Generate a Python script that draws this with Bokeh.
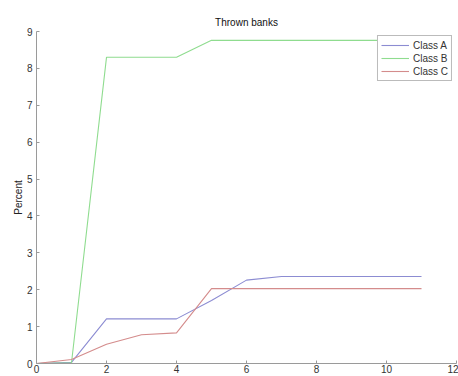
from bokeh.plotting import figure
from bokeh.models import FixedTicker, Range1d, Legend, LegendItem
from bokeh.embed import file_html
from bokeh.resources import INLINE

x = [0, 1, 2, 3, 4, 5, 6, 7, 8, 9, 10, 11]
class_a = [0.0, 0.03, 1.21, 1.21, 1.21, 1.71, 2.26, 2.36, 2.36, 2.36, 2.36, 2.36]
class_b = [0.0, 0.02, 8.30, 8.30, 8.30, 8.76, 8.76, 8.76, 8.76, 8.76, 8.76, 8.76]
class_c = [0.0, 0.11, 0.52, 0.78, 0.83, 2.03, 2.03, 2.03, 2.03, 2.03, 2.03, 2.03]
names = ["Class A", "Class B", "Class C"]
colors = ["#8c8cd2", "#8fdc8f", "#d48c8c"]
x_ticks = [0, 2, 4, 6, 8, 10, 12]
y_ticks = [0, 1, 2, 3, 4, 5, 6, 7, 8, 9]

FONT = "Liberation Sans"

p = figure(width=458, height=376, output_backend="svg", toolbar_location=None,
           x_range=Range1d(0, 12), y_range=Range1d(0, 9),
           min_border_left=36, min_border_right=2, min_border_top=31, min_border_bottom=13,
           title="Thrown banks")
p.outline_line_color = None
p.grid.visible = False
p.background_fill_color = "white"
p.border_fill_color = "white"

p.title.align = "center"
p.title.text_font = FONT
p.title.text_font_size = "10px"
p.title.text_font_style = "normal"
p.title.text_color = "#111111"
p.title.standoff = 8

for ax in (p.xaxis[0], p.yaxis[0]):
    ax.axis_line_color = "#9a9a9a"
    ax.major_tick_line_color = "#9a9a9a"
    ax.major_tick_in = 3
    ax.major_tick_out = 0
    ax.minor_tick_line_color = None
    ax.major_label_text_font = FONT
    ax.major_label_text_font_size = "10px"
    ax.major_label_text_color = "#333333"

p.xaxis.major_label_standoff = 1
p.yaxis.major_label_standoff = 4
p.xaxis.ticker = FixedTicker(ticks=x_ticks)
p.yaxis.ticker = FixedTicker(ticks=y_ticks)
p.yaxis.axis_label = "Percent"
p.yaxis.axis_label_text_font = FONT
p.yaxis.axis_label_text_font_size = "10px"
p.yaxis.axis_label_text_font_style = "normal"
p.yaxis.axis_label_text_color = "#222222"
p.yaxis.axis_label_standoff = 0

items = []
for ys, name, c in zip([class_a, class_b, class_c], names, colors):
    r = p.line(x, ys, line_color=c, line_width=1.1)
    items.append(LegendItem(label=name, renderers=[r]))

legend = Legend(items=items, location="top_right")
legend.margin = 4
legend.padding = 3
legend.spacing = 1
legend.glyph_width = 28
legend.glyph_height = 12
legend.label_height = 12
legend.label_standoff = 4
legend.label_text_font = FONT
legend.label_text_font_size = "10px"
legend.label_text_color = "#333333"
legend.border_line_color = "#777777"
legend.border_line_width = 1
legend.background_fill_color = "white"
legend.background_fill_alpha = 1.0
p.add_layout(legend, "center")

open("out.html", "w").write(file_html(p, INLINE))
